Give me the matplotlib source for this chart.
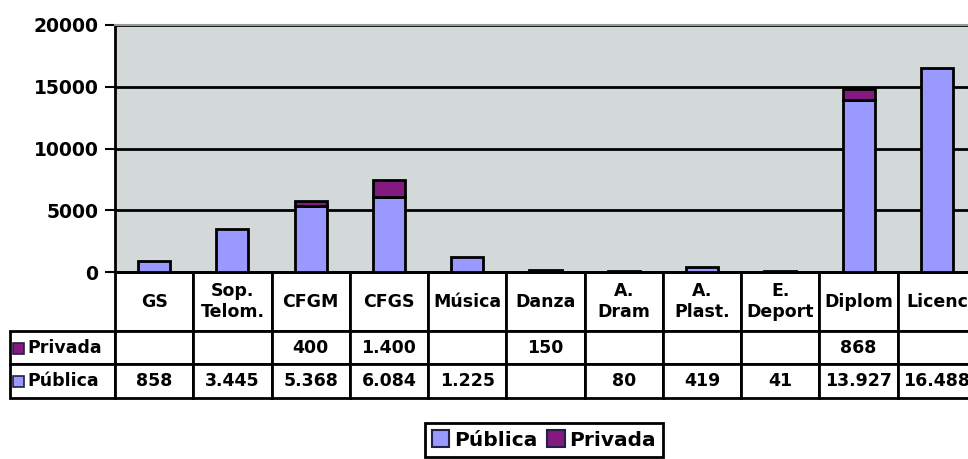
import numpy as np
import matplotlib
matplotlib.use("Agg")
import matplotlib.pyplot as plt
from matplotlib.table import Table
from matplotlib.patches import Rectangle

plt.rcParams['font.family'] = ['DejaVu Sans']
plt.rcParams['font.weight'] = 'bold'

categorias = ["GS", "Sop.\nTelom.", "CFGM", "CFGS", "Música", "Danza",
              "A.\nDram", "A.\nPlast.", "E.\nDeport", "Diplom", "Licenc"]
publica = [858, 3445, 5368, 6084, 1225, None, 80, 419, 41, 13927, 16488]
privada = [None, None, 400, 1400, None, 150, None, None, None, 868, None]

c_pub = "#9999FF"
c_priv = "#821A80"

W, H = 968, 459
fig = plt.figure(figsize=(W / 100, H / 100), dpi=100)

# plot area (pixels): x 115 -> 976 (cut at right edge), y 25 -> 272
ax = fig.add_axes([115 / W, (H - 272) / H, 861 / W, 247 / H])
ax.set_facecolor("#D3D8D9")

x = np.arange(len(categorias))
pub = np.array([v if v else 0 for v in publica], dtype=float)
priv = np.array([v if v else 0 for v in privada], dtype=float)

m = pub > 0
ax.bar(x[m], pub[m], width=0.41, color=c_pub, edgecolor="black", linewidth=2, zorder=3)
m = priv > 0
ax.bar(x[m], priv[m], bottom=pub[m], width=0.41, color=c_priv, edgecolor="black",
       linewidth=2, zorder=3)

ax.set_xlim(-0.5, len(categorias) - 0.5)
ax.set_ylim(0, 20000)
ax.set_yticks([0, 5000, 10000, 15000, 20000])
ax.set_xticks([])
ax.tick_params(axis="y", length=7, width=1.5, labelsize=13.5, pad=5)
for lab in ax.get_yticklabels():
    lab.set_fontweight("bold")
ax.yaxis.grid(True, color="black", linewidth=2)
ax.set_axisbelow(True)
for s in ["left", "bottom"]:
    ax.spines[s].set_linewidth(2)
ax.spines["top"].set_color("#999999")
ax.spines["top"].set_linewidth(1.5)
ax.spines["right"].set_visible(False)


def px2ax(px, py):
    return (px - 115) / 861, (272 - py) / 247


# data table below the plot
tx0, ty0 = px2ax(10, 398)
tx1, ty1 = px2ax(976, 272)
tb = Table(ax, bbox=[tx0, ty0, tx1 - tx0, ty1 - ty0])
colw = 78.3
hdr_h, r1_h, r2_h = 59, 32, 34
for j, cat in enumerate(categorias):
    tb.add_cell(0, j + 1, width=colw, height=hdr_h, text=cat, loc="center",
                facecolor="white")
tb.add_cell(1, 0, width=105, height=r1_h, text="Privada", loc="left", facecolor="white")
tb.add_cell(2, 0, width=105, height=r2_h, text="Pública", loc="left", facecolor="white")


def fmt(v):
    return "" if v is None else f"{v:,}".replace(",", ".")


for j in range(len(categorias)):
    tb.add_cell(1, j + 1, width=colw, height=r1_h, text=fmt(privada[j]), loc="center",
                facecolor="white")
    tb.add_cell(2, j + 1, width=colw, height=r2_h, text=fmt(publica[j]), loc="center",
                facecolor="white")
tb.auto_set_font_size(False)
tb.set_fontsize(12.5)
for (r, c), cell in tb.get_celld().items():
    cell.set_linewidth(2)
    cell.get_text().set_fontweight("bold")
    if c == 0:
        cell.PAD = 0.17
tb.set_clip_on(False)
ax.add_table(tb)

# colour keys in the row labels
for py, col in [(348, c_priv), (381, c_pub)]:
    qx, qy = px2ax(13, py + 6)
    ax.add_patch(Rectangle((qx, qy), 11 / 861, 11 / 247, transform=ax.transAxes,
                           facecolor=col, edgecolor="#222244", linewidth=1.2,
                           clip_on=False, zorder=5))

handles = [Rectangle((0, 0), 1, 1, facecolor=c_pub, edgecolor="#222244", linewidth=1.5),
           Rectangle((0, 0), 1, 1, facecolor=c_priv, edgecolor="#222244", linewidth=1.5)]
leg = fig.legend(handles, ["Pública", "Privada"], loc="center",
                 bbox_to_anchor=(544 / W, (H - 440) / H), ncol=2, fontsize=14.5,
                 handlelength=0.85, handleheight=0.85, handletextpad=0.25,
                 columnspacing=0.5, borderpad=0.35, fancybox=False,
                 edgecolor="black", framealpha=1)
leg.get_frame().set_linewidth(2)
for t in leg.get_texts():
    t.set_fontweight("bold")

fig.savefig("out.png", dpi=100, facecolor="white")
